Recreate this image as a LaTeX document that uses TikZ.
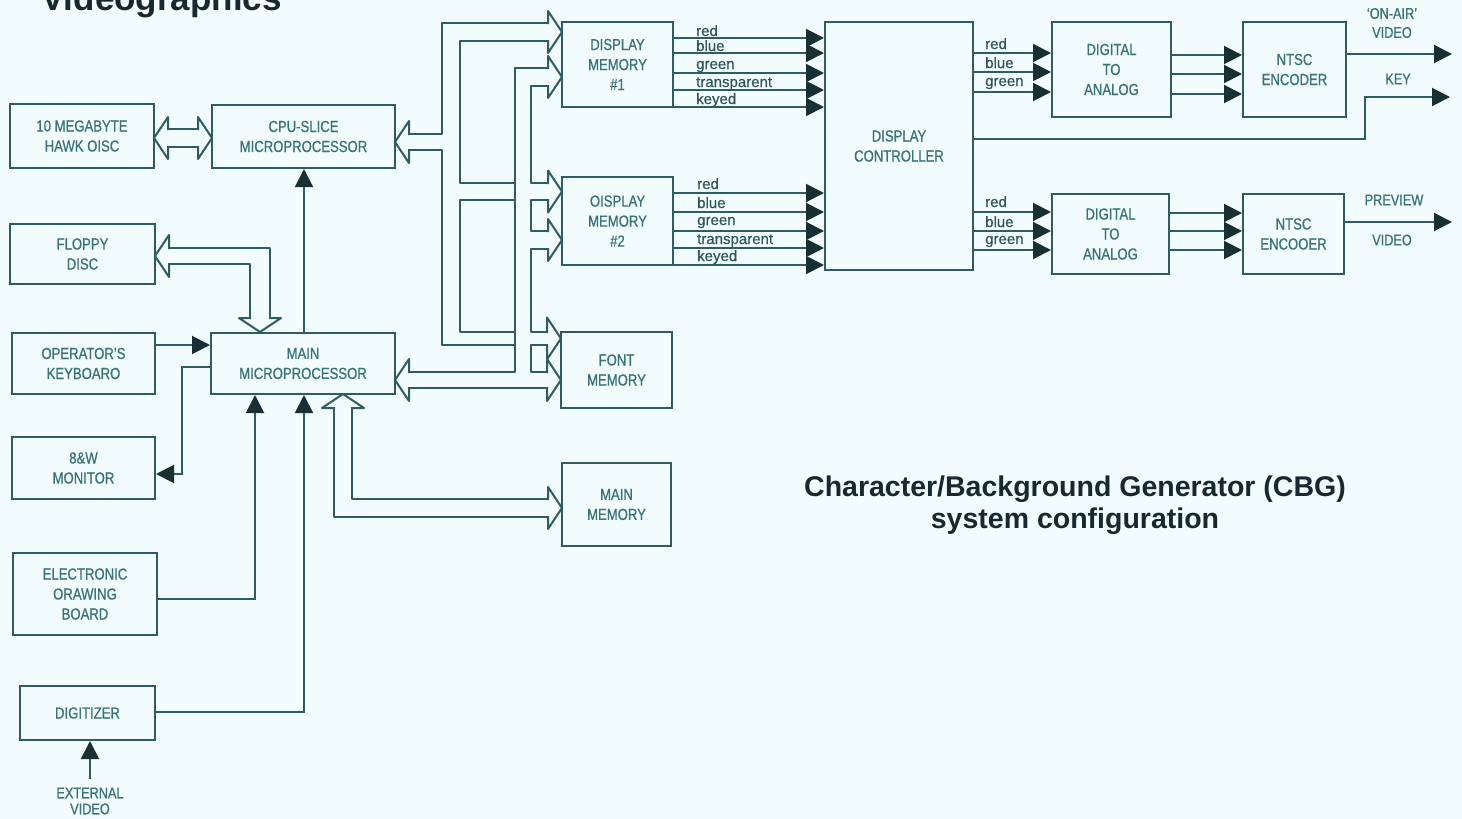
\documentclass[tikz,border=0pt]{standalone}
\usepackage{fontspec}
\newfontfamily\boxfont[FakeStretch=0.82,FakeBold=0.7]{Liberation Sans}
\newfontfamily\sigfont[FakeBold=0.5]{Liberation Sans}
\newfontfamily\ttlfont{Liberation Sans}
\usetikzlibrary{arrows.meta}
\definecolor{bgc}{RGB}{242,252,252}
\definecolor{linec}{RGB}{45,92,97}
\definecolor{textc}{RGB}{55,115,120}
\definecolor{arrc}{RGB}{24,48,52}
\definecolor{titlec}{RGB}{24,40,48}
\definecolor{sigc}{RGB}{45,85,90}
\tikzset{
  box/.style={draw=linec, line width=2pt, text=textc, font=\boxfont\fontsize{16}{20}\selectfont, align=center, inner sep=0pt},
  bus/.style={draw=linec, line width=2pt, line join=round},
  wire/.style={draw=linec, line width=2pt},
  arr/.style={wire, -{Triangle[length=18pt,width=18pt,color=arrc]}},
  lbl/.style={text=sigc, font=\sigfont\fontsize{15}{18}\selectfont, inner sep=0pt, anchor=base west},
  outlbl/.style={text=textc, font=\boxfont\fontsize{15.5}{19}\selectfont, align=center, inner sep=0pt}
}
\newcommand\bx[6]{\node[box, minimum width={(#4-#2)*1pt}, minimum height={(#5-#3)*1pt}] (#1) at ({(#2+#4)/2},{(#3+#5)/2}) {#6};}
\newcommand\hdR[3]{\draw[bus] ({#1-14},{#2-#3}) -- ({#1-14},{#2-21}) -- (#1,#2) -- ({#1-14},{#2+21}) -- ({#1-14},{#2+#3});}
\newcommand\hdL[3]{\draw[bus] ({#1+14},{#2-#3}) -- ({#1+14},{#2-21}) -- (#1,#2) -- ({#1+14},{#2+21}) -- ({#1+14},{#2+#3});}
\newcommand\hdD[3]{\draw[bus] ({#1-#3},{#2-14}) -- ({#1-21},{#2-14}) -- (#1,#2) -- ({#1+21},{#2-14}) -- ({#1+#3},{#2-14});}
\newcommand\hdU[3]{\draw[bus] ({#1-#3},{#2+14}) -- ({#1-21},{#2+14}) -- (#1,#2) -- ({#1+21},{#2+14}) -- ({#1+#3},{#2+14});}
\begin{document}
\begin{tikzpicture}[x=1pt,y=-1pt,line cap=rect]
\useasboundingbox (0,0) rectangle (1462,819);
\fill[bgc] (0,0) rectangle (1462,819);

% heading (cut off at the top, as in the reference)
\node[anchor=base west, inner sep=0pt, text=titlec, font=\ttlfont\bfseries\fontsize{35}{40}\selectfont] (vg) at (41,10) {Videographics};

% boxes
\bx{disc}{10}{104}{154}{168}{10 MEGABYTE\\HAWK OISC}
\bx{cpu}{212}{105}{395}{168}{CPU-SLICE\\MICROPROCESSOR}
\bx{floppy}{10}{224}{155}{284}{FLOPPY\\DISC}
\bx{kbd}{12}{333}{155}{394}{OPERATOR’S\\KEYBOARO}
\bx{bw}{12}{437}{155}{499}{8\&W\\MONITOR}
\bx{edb}{13}{553}{157}{635}{ELECTRONIC\\ORAWING\\BOARD}
\bx{dig}{20}{686}{155}{740}{DIGITIZER}
\bx{mainmp}{211}{333}{395}{394}{MAIN\\MICROPROCESSOR}
\bx{dma}{562}{22}{673}{107}{DISPLAY\\MEMORY\\\#1}
\bx{dmb}{562}{177}{673}{265}{OISPLAY\\MEMORY\\\#2}
\bx{fontmem}{561}{332}{672}{408}{FONT\\MEMORY}
\bx{mmem}{562}{463}{671}{546}{MAIN\\MEMORY}
\bx{dc}{825}{22}{973}{270}{DISPLAY\\CONTROLLER}
\bx{dtaa}{1052}{22}{1171}{117}{DIGITAL\\TO\\ANALOG}
\bx{ntsca}{1243}{22}{1346}{117}{NTSC\\ENCODER}
\bx{dtab}{1052}{194}{1169}{274}{DIGITAL\\TO\\ANALOG}
\bx{ntscb}{1243}{194}{1344}{274}{NTSC\\ENCOOER}

% filled-arrow connectors on the left
\draw[arr] (mainmp.north -| 304,0) -- (cpu.south -| 304,0);
\draw[arr] (kbd.east |- 0,345) -- (mainmp.west |- 0,345);
\draw[arr] (mainmp.west |- 0,367) -- (182,367) -- (182,474) -- (bw.east |- 0,474);
\draw[arr] (edb.east |- 0,599) -- (255,599) -- (mainmp.south -| 255,0);
\draw[arr] (dig.east |- 0,712) -- (304,712) -- (mainmp.south -| 304,0);
\coordinate (extv) at (90,778);
\draw[arr] (extv) -- (extv |- dig.south);
\node[outlbl, font=\boxfont\fontsize{15.5}{16}\selectfont] (extlbl) at (90,801) {EXTERNAL\\VIDEO};

% bus: disc <-> cpu-slice
\hdL{154}{138}{9} \hdR{212}{138}{9}
\draw[bus] (168,129) -- (198,129) (168,147) -- (198,147);

% bus: floppy <-> main micro
\hdL{155}{256}{8}
\draw[bus] (169,248) -- (270,248) -- (270,318);
\draw[bus] (169,264) -- (250,264) -- (250,318);
\hdD{260}{332}{10}

% bus: main micro <-> main memory
\hdU{343}{394}{9}
\draw[bus] (352,408) -- (352,499) -- (548,499);
\draw[bus] (334,408) -- (334,517) -- (548,517);
\hdR{562}{508}{9}

% bus from cpu-slice
\hdL{395}{142}{8}
\draw[bus] (409,134) -- (442,134) -- (442,23) -- (548,23);
\hdR{562}{32}{9}
\draw[bus] (548,41) -- (460,41) -- (460,183) -- (515,183);
\draw[bus] (515,200) -- (460,200) -- (460,332) -- (515,332);
\draw[bus] (409,150) -- (442,150) -- (442,345) -- (515,345);

% second bus channel
\hdR{562}{77}{9}
\draw[bus] (548,68) -- (515,68) -- (515,372) -- (409,372);
\draw[bus] (548,86) -- (531,86) -- (531,183) -- (548,183);
\hdR{562}{191.5}{8.5}
\draw[bus] (548,200) -- (531,200) -- (531,231) -- (548,231);
\hdR{562}{240}{9}
\draw[bus] (548,249) -- (531,249) -- (531,332) -- (547,332);
\hdR{561}{338.5}{6.5}
\draw[bus] (547,345) -- (531,345) -- (531,372) -- (547,372);
\hdR{561}{380}{8}
\draw[bus] (409,388) -- (547,388);
\hdL{395}{380}{8}

% display memory #1 -> display controller
\foreach \yy in {38,53,73,90,107} \draw[arr] (dma.east |- 0,\yy) -- (dc.west |- 0,\yy);
\node[lbl] (l1a) at (696,36) {red};
\node[lbl] (l1b) at (696,51) {blue};
\node[lbl] (l1c) at (696,69) {green};
\node[lbl] (l1d) at (696,87) {transparent};
\node[lbl] (l1e) at (696,104) {keyed};

% display memory #2 -> display controller
\foreach \yy in {193,212,231,248,265} \draw[arr] (dmb.east |- 0,\yy) -- (dc.west |- 0,\yy);
\node[lbl] (l2a) at (697,189) {red};
\node[lbl] (l2b) at (697,208) {blue};
\node[lbl] (l2c) at (697,225) {green};
\node[lbl] (l2d) at (697,244) {transparent};
\node[lbl] (l2e) at (697,261) {keyed};

% display controller -> D/A converters
\foreach \yy in {53,72,92} \draw[arr] (dc.east |- 0,\yy) -- (dtaa.west |- 0,\yy);
\node[lbl] (l3a) at (985,49) {red};
\node[lbl] (l3b) at (985,68) {blue};
\node[lbl] (l3c) at (985,86) {green};
\foreach \yy in {212,231,250} \draw[arr] (dc.east |- 0,\yy) -- (dtab.west |- 0,\yy);
\node[lbl] (l4a) at (985,207) {red};
\node[lbl] (l4b) at (985,227) {blue};
\node[lbl] (l4c) at (985,244) {green};

% D/A -> NTSC encoders
\foreach \yy in {55,74,94} \draw[arr] (dtaa.east |- 0,\yy) -- (ntsca.west |- 0,\yy);
\foreach \yy in {213,231,250} \draw[arr] (dtab.east |- 0,\yy) -- (ntscb.west |- 0,\yy);

% outputs
\coordinate (outa) at (1452,54);
\coordinate (outk) at (1450,97);
\coordinate (outb) at (1452,222);
\draw[arr] (ntsca.east |- outa) -- (outa);
\draw[arr] (dc.east |- 0,139) -- (1365,139) -- (1365,97) -- (outk);
\draw[arr] (ntscb.east |- outb) -- (outb);
\node[outlbl] (onair) at (1392,23) {‘ON-AIR’\\VIDEO};
\node[outlbl] (key) at (1398,79) {KEY};
\node[outlbl] (prev) at (1394,200) {PREVIEW};
\node[outlbl] (pvid) at (1392,240) {VIDEO};

% caption
\node[text=titlec, align=center, font=\ttlfont\bfseries\fontsize{28.5}{32}\selectfont, inner sep=0pt] (title) at (1075,505) {Character/Background Generator (CBG)\\system configuration};
\end{tikzpicture}
\end{document}
